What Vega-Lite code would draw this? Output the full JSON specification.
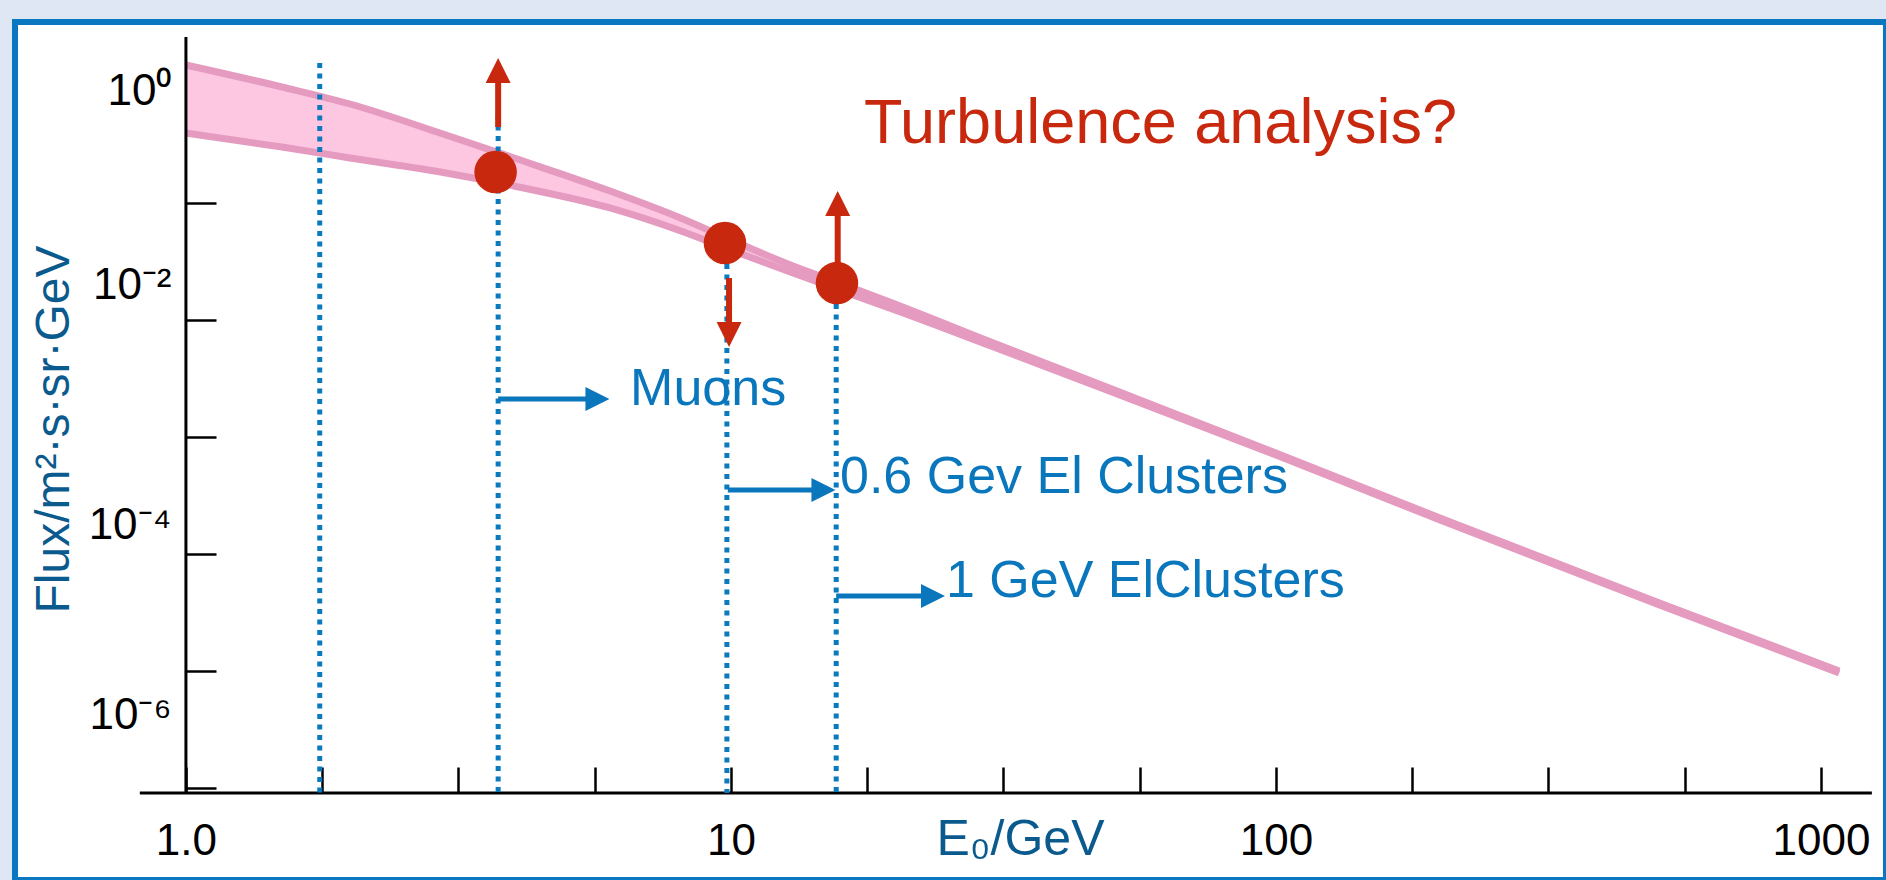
{
  "$schema": "https://vega.github.io/schema/vega-lite/v6.json",
  "width": 1871,
  "height": 858,
  "autosize": {"type": "none"},
  "padding": {"left": 15, "top": 22, "right": 0, "bottom": 0},
  "background": "#dfe6f4",
  "config": {
    "view": {"fill": "#ffffff", "stroke": "#0a78c0", "strokeWidth": 6},
    "font": "Liberation Sans",
    "text": {"font": "Liberation Sans"}
  },
  "datasets": {
    "band": [
      {"E": 1, "lo": 0.3967, "hi": 1.5115},
      {"E": 1.5, "lo": 0.3011, "hi": 0.9805},
      {"E": 2, "lo": 0.2425, "hi": 0.7017},
      {"E": 3, "lo": 0.1805, "hi": 0.3813},
      {"E": 4, "lo": 0.1397, "hi": 0.2425},
      {"E": 6, "lo": 0.09065, "hi": 0.1266},
      {"E": 8, "lo": 0.05877, "hi": 0.07593},
      {"E": 10, "lo": 0.03967, "hi": 0.04829},
      {"E": 13, "lo": 0.02522, "hi": 0.02894},
      {"E": 16, "lo": 0.01769, "hi": 0.02031},
      {"E": 20, "lo": 0.01218, "hi": 0.0137},
      {"E": 30, "lo": 0.005995, "hi": 0.006486},
      {"E": 50, "lo": 0.002425, "hi": 0.002572},
      {"E": 100, "lo": 0.0007017, "hi": 0.0007302},
      {"E": 200, "lo": 0.0001953, "hi": 0.0002031},
      {"E": 500, "lo": 0.00003737, "hi": 0.00003887},
      {"E": 1080, "lo": 0.000009614, "hi": 0.00001}
    ],
    "axislines": [
      {"E0": 0.823, "E1": 1240, "F0": 9.06e-7, "F1": 9.06e-7},
      {"E0": 1, "E1": 1, "F0": 9.06e-7, "F1": 2.62}
    ],
    "cuts": [
      {"E": 1.76, "top": 1.573, "bottom": 9.06e-7},
      {"E": 3.74, "top": 0.565, "bottom": 9.06e-7},
      {"E": 9.83, "top": 0.0455, "bottom": 9.06e-7},
      {"E": 15.6, "top": 0.0207, "bottom": 9.06e-7}
    ],
    "limits": [
      {"E": 3.74, "from": 0.446, "to": 1.357, "dir": "up"},
      {"E": 9.92, "from": 0.02286, "to": 0.007518, "dir": "down"},
      {"E": 15.7, "from": 0.0207, "to": 0.099, "dir": "up"}
    ],
    "points": [
      {"E": 3.7, "flux": 0.184},
      {"E": 9.75, "flux": 0.0455},
      {"E": 15.65, "flux": 0.0207}
    ],
    "thresholds": [
      {"flux": 0.002113, "E0": 3.74, "E1": 5.689},
      {"flux": 0.0003524, "E0": 9.87, "E1": 14.78},
      {"flux": 0.00004375, "E0": 15.6, "E1": 23.48}
    ],
    "notes": [
      {"E": 6.53, "flux": 0.001877, "text": "Muons", "kind": "sample"},
      {"E": 15.85, "flux": 0.0003322, "text": "0.6 Gev El Clusters", "kind": "sample"},
      {"E": 24.8, "flux": 0.0000429, "text": "1 GeV ElClusters", "kind": "sample"},
      {"E": 17.54, "flux": 0.3257, "text": "Turbulence analysis?", "kind": "question"}
    ]
  },
  "layer": [
    {
      "data": {"name": "band"},
      "mark": {"type": "area", "color": "#fdc7e2", "opacity": 1, "interpolate": "monotone"},
      "encoding": {
        "x": {
          "field": "E",
          "type": "quantitative",
          "scale": {"type": "log", "domain": [0.4857, 1316.3], "nice": false},
          "axis": {
            "values": [1, 1.7783, 3.1623, 5.6234, 10, 17.783, 31.623, 56.234, 100, 177.83, 316.23, 562.34, 1000],
            "labelExpr": "datum.value == 1 ? '1.0' : datum.value == 10 ? '10' : datum.value == 100 ? '100' : datum.value == 1000 ? '1000' : ''",
            "offset": -87,
            "domain": false,
            "grid": false,
            "tickColor": "#000000",
            "tickWidth": 2.5,
            "tickSize": -26,
            "encode": {
              "ticks": {
                "update": {
                  "y2": {"signal": "datum.value == 10 || datum.value == 100 || datum.value == 1000 ? -44 : -26"}
                }
              }
            },
            "labelFont": "Liberation Sans",
            "labelFontSize": 44,
            "labelColor": "#000000",
            "labelPadding": 52,
            "labelFlush": false,
            "labelOverlap": false,
            "labelBound": false,
            "title": "E₀/GeV",
            "titleFont": "Liberation Sans",
            "titleFontSize": 50,
            "titleFontWeight": "normal",
            "titleColor": "#0b5a8e",
            "titleX": 1005,
            "titlePadding": -49
          }
        },
        "y": {
          "field": "lo",
          "type": "quantitative",
          "scale": {"type": "log", "domain": [1.6357e-7, 3.5237], "nice": false},
          "axis": {
            "values": [1, 0.1, 0.01, 0.001, 0.0001, 0.00001, 0.000001],
            "labelExpr": "datum.value > 0.5 ? '10⁰' : datum.value > 0.005 && datum.value < 0.05 ? '10⁻²' : datum.value > 0.00005 && datum.value < 0.0005 ? '10⁻⁴' : datum.value < 0.000005 ? '10⁻⁶' : ''",
            "offset": -171,
            "domain": false,
            "grid": false,
            "tickColor": "#000000",
            "tickWidth": 2.5,
            "tickSize": -30,
            "labelFont": "Liberation Sans",
            "labelFontSize": 44,
            "labelColor": "#000000",
            "labelPadding": 45,
            "labelFlush": false,
            "labelOverlap": false,
            "labelBound": false,
            "labelOffset": {
              "condition": [
                {"test": "datum.value > 0.5", "value": 6},
                {"test": "datum.value > 0.005", "value": -35},
                {"test": "datum.value > 0.00005", "value": -29}
              ],
              "value": -73
            },
            "title": "Flux/m²·s·sr·GeV",
            "titleFont": "Liberation Sans",
            "titleFontSize": 48,
            "titleFontWeight": "normal",
            "titleColor": "#0b5a8e",
            "titleY": 407,
            "titlePadding": 10
          }
        },
        "y2": {"field": "hi"}
      }
    },
    {
      "data": {"name": "band"},
      "mark": {"type": "line", "color": "#e59bc0", "strokeWidth": 7, "strokeCap": "butt", "interpolate": "monotone"},
      "encoding": {
        "x": {"field": "E", "type": "quantitative"},
        "y": {"field": "hi", "type": "quantitative"}
      }
    },
    {
      "data": {"name": "band"},
      "mark": {"type": "line", "color": "#e59bc0", "strokeWidth": 7, "strokeCap": "butt", "interpolate": "monotone"},
      "encoding": {
        "x": {"field": "E", "type": "quantitative"},
        "y": {"field": "lo", "type": "quantitative"}
      }
    },
    {
      "data": {"name": "axislines"},
      "mark": {"type": "rule", "color": "#000000", "strokeWidth": 3},
      "encoding": {
        "x": {"field": "E0", "type": "quantitative"},
        "x2": {"field": "E1"},
        "y": {"field": "F0", "type": "quantitative"},
        "y2": {"field": "F1"}
      }
    },
    {
      "data": {"name": "notes"},
      "transform": [{"filter": "datum.kind == 'sample'"}],
      "mark": {"type": "text", "align": "left", "baseline": "alphabetic", "fontSize": 52, "color": "#0a77bd", "font": "Liberation Sans"},
      "encoding": {
        "x": {"field": "E", "type": "quantitative"},
        "y": {"field": "flux", "type": "quantitative"},
        "text": {"field": "text"}
      }
    },
    {
      "data": {"name": "notes"},
      "transform": [{"filter": "datum.kind == 'question'"}],
      "mark": {"type": "text", "align": "left", "baseline": "alphabetic", "fontSize": 63, "color": "#c8280d", "font": "Liberation Sans"},
      "encoding": {
        "x": {"field": "E", "type": "quantitative"},
        "y": {"field": "flux", "type": "quantitative"},
        "text": {"field": "text"}
      }
    },
    {
      "data": {"name": "cuts"},
      "mark": {"type": "rule", "color": "#0a7abf", "strokeWidth": 5, "strokeDash": [5, 5.5]},
      "encoding": {
        "x": {"field": "E", "type": "quantitative"},
        "y": {"field": "top", "type": "quantitative"},
        "y2": {"field": "bottom"}
      }
    },
    {
      "data": {"name": "thresholds"},
      "mark": {"type": "rule", "color": "#0a77bd", "strokeWidth": 5},
      "encoding": {
        "x": {"field": "E0", "type": "quantitative"},
        "x2": {"field": "E1"},
        "y": {"field": "flux", "type": "quantitative"}
      }
    },
    {
      "data": {"name": "thresholds"},
      "mark": {"type": "point", "shape": "M1,0L-1,-1L-1,1Z", "filled": true, "size": 576, "color": "#0a77bd", "opacity": 1},
      "encoding": {
        "x": {"field": "E1", "type": "quantitative"},
        "y": {"field": "flux", "type": "quantitative"}
      }
    },
    {
      "data": {"name": "limits"},
      "mark": {"type": "rule", "color": "#c8280d", "strokeWidth": 6},
      "encoding": {
        "x": {"field": "E", "type": "quantitative"},
        "y": {"field": "from", "type": "quantitative"},
        "y2": {"field": "to"}
      }
    },
    {
      "data": {"name": "limits"},
      "mark": {"type": "point", "filled": true, "size": 625, "color": "#c8280d", "opacity": 1},
      "encoding": {
        "x": {"field": "E", "type": "quantitative"},
        "y": {"field": "to", "type": "quantitative"},
        "shape": {
          "field": "dir",
          "type": "nominal",
          "scale": {"domain": ["up", "down"], "range": ["M0,-1L1,1L-1,1Z", "M0,1L1,-1L-1,-1Z"]},
          "legend": null
        }
      }
    },
    {
      "data": {"name": "points"},
      "mark": {"type": "circle", "size": 1810, "color": "#c8280d", "opacity": 1},
      "encoding": {
        "x": {"field": "E", "type": "quantitative"},
        "y": {"field": "flux", "type": "quantitative"}
      }
    }
  ]
}
